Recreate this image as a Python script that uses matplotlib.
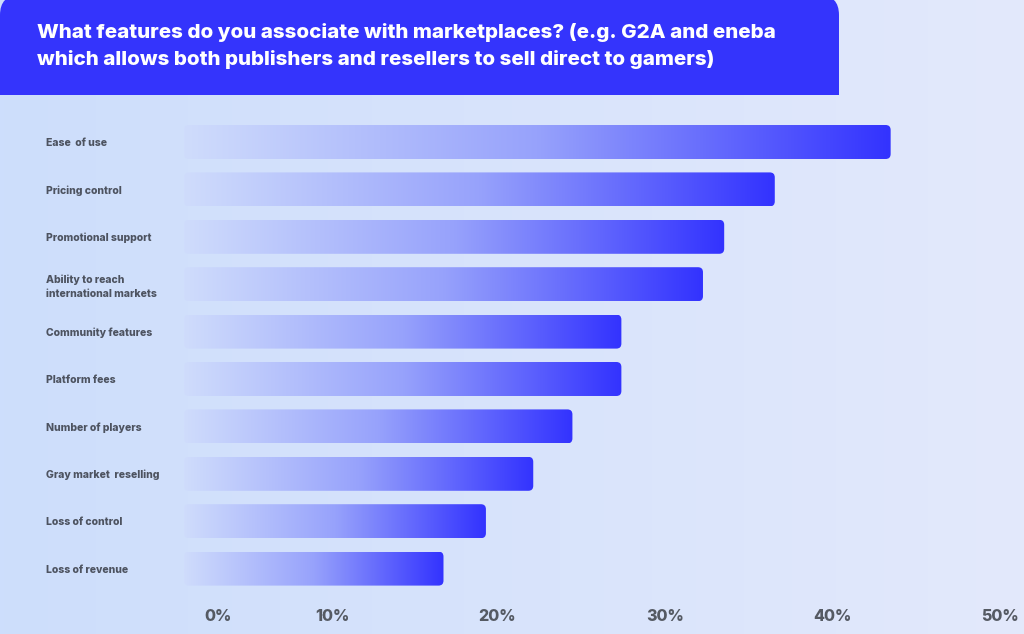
import numpy as np
import matplotlib
matplotlib.use("Agg")
import matplotlib.pyplot as plt
from matplotlib.patches import FancyBboxPatch, Rectangle
from matplotlib.colors import LinearSegmentedColormap

# data
features = ["Ease  of use", "Pricing control", "Promotional support",
            "Ability to reach\ninternational markets", "Community features",
            "Platform fees", "Number of players", "Gray market  reselling",
            "Loss of control", "Loss of revenue"]
shares = [43.3, 36.2, 33.1, 31.8, 26.8, 26.8, 23.8, 21.4, 18.5, 15.9]
tick_labels = ["0%", "10%", "20%", "30%", "40%", "50%"]
tick_pos = [2.1, 9.1, 19.2, 29.5, 39.7, 50.0]  # where the labels sit in the picture

title = ("What features do you associate with marketplaces? (e.g. G2A and eneba\n"
         "which allows both publishers and resellers to sell direct to gamers)")

W, H = 1024, 634
fig = plt.figure(figsize=(W / 100, H / 100), dpi=100)

# background gradient
bg = fig.add_axes([0, 0, 1, 1])
bg_cmap = LinearSegmentedColormap.from_list("bg", ["#cddefc", "#e3e9fb"])
gx = np.linspace(0, 1, 256)[None, :]
bg.imshow(gx, cmap=bg_cmap, aspect="auto", extent=[0, W, 0, H])
bg.set_xlim(0, W)
bg.set_ylim(0, H)
bg.axis("off")

# title banner, only the top corners rounded (top edge a bit above the picture)
banner = FancyBboxPatch((0, H - 95), 839, 100, boxstyle="round,pad=0,rounding_size=20",
                        fc="#3434fc", ec="none")
bg.add_patch(banner)
bg.add_patch(Rectangle((0, H - 95), 839, 40, fc="#3434fc", ec="none"))
bg.text(37, H - 46, title, color="white", fontsize=14.8, fontweight="heavy",
        family="Inter", va="center", ha="left", linespacing=1.47)

# main axes: 0 at px 184, 50% at px 1000, rows spaced 47.4 px
left = 184 / W
right = 1000 / W
top = 1 - 118.3 / H
bottom = 1 - 592.3 / H
ax = fig.add_axes([left, bottom, right - left, top - bottom])
ax.set_xlim(0, 50)
ax.set_ylim(len(features) - 0.5, -0.5)
ax.patch.set_alpha(0)
for s in ax.spines.values():
    s.set_visible(False)

bar_h = 0.717
bars = ax.barh(range(len(features)), shares, height=bar_h, color="none")
bar_cmap = LinearSegmentedColormap.from_list("bar", ["#cfdcfc", "#97a2fb", "#3333ff"])
grad = np.linspace(0, 1, 256)[None, :]
x_px = 816 / 50
y_px = 474 / len(features)
for b in bars:
    x0, y0 = b.get_x(), b.get_y()
    w, h = b.get_width(), b.get_height()
    shape = FancyBboxPatch((x0, y0), w, h,
                           boxstyle="round,pad=0,rounding_size=%f" % (5 / x_px),
                           mutation_aspect=x_px / y_px, fc="none", ec="none")
    ax.add_patch(shape)
    im = ax.imshow(grad, cmap=bar_cmap, aspect="auto",
                   extent=[x0, x0 + w, y0 + h, y0], zorder=2)
    im.set_clip_path(shape)

ax.set_xlim(0, 50)
ax.set_ylim(len(features) - 0.5, -0.5)

ax.set_yticks(range(len(features)))
ax.set_yticklabels(features, fontsize=7.5, fontweight="heavy", color="#4d5360",
                   family="Inter", ha="left", linespacing=1.5)
ax.tick_params(axis="y", length=0, pad=(184 - 46) * 0.72)

ax.set_xticks(tick_pos)
ax.set_xticklabels(tick_labels, fontsize=11.5, fontweight="heavy", color="#555a63",
                   family="Inter")
ax.tick_params(axis="x", length=0, pad=12)

fig.savefig("out.png", dpi=100)
